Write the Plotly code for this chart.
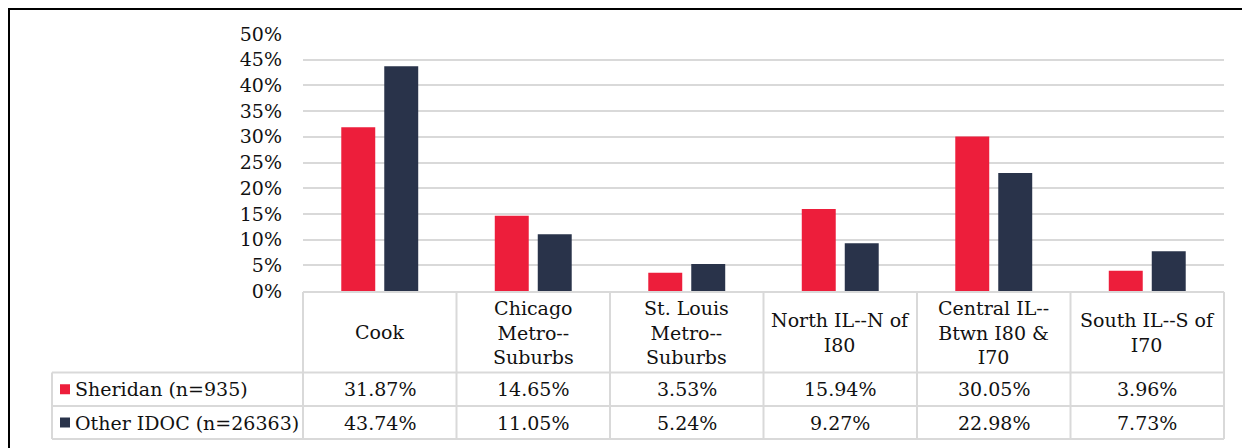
import plotly.graph_objects as go

categories = ["Cook", "Chicago Metro--Suburbs", "St. Louis Metro--Suburbs",
              "North IL--N of I80", "Central IL--Btwn I80 & I70", "South IL--S of I70"]
header_labels = ["Cook", "Chicago<br>Metro--<br>Suburbs", "St. Louis<br>Metro--<br>Suburbs",
                 "North IL--N of<br>I80", "Central IL--<br>Btwn I80 &<br>I70", "South IL--S of<br>I70"]
series_names = ["Sheridan (n=935)", "Other IDOC (n=26363)"]
sheridan = [31.87, 14.65, 3.53, 15.94, 30.05, 3.96]
other_idoc = [43.74, 11.05, 5.24, 9.27, 22.98, 7.73]
tick_vals = [0, 5, 10, 15, 20, 25, 30, 35, 40, 45, 50]
tick_text = [f"{v}%" for v in tick_vals]

RED = "#ED1E3B"
NAVY = "#29334A"
GRID = "#d9d9d9"
FONT = "DejaVu Serif"
FS = 19

# page offset of the figure div (default body margin)
OFF = 8
WIDTH, HEIGHT = 1250 - OFF, 448 - OFF
# plot-area geometry in page pixels
L, R, T, B = 303, 1224, 34, 291
PW, PH = R - L, B - T


def px(x):
    return (x - L) / PW


def py(y):
    return (B - y) / PH


fig = go.Figure()
for name, vals, col in [(series_names[0], sheridan, RED), (series_names[1], other_idoc, NAVY)]:
    fig.add_trace(go.Bar(x=categories, y=vals, name=name, marker_color=col,
                         marker_line_width=0))

shapes = []
n = len(categories)
col_w = PW / n
line = dict(color=GRID, width=2)
row_top, row_hdr, row_mid, row_bot = 292, 372.5, 406, 439
leg_left = 52
shapes.append(dict(type="line", xref="paper", yref="paper", x0=px(L), x1=px(R),
                   y0=py(row_top), y1=py(row_top), line=line))
for yy in [row_hdr, row_mid, row_bot]:
    shapes.append(dict(type="line", xref="paper", yref="paper", x0=px(leg_left), x1=px(R),
                       y0=py(yy), y1=py(yy), line=line))
for k in range(n + 1):
    xx = L + k * col_w
    shapes.append(dict(type="line", xref="paper", yref="paper", x0=px(xx), x1=px(xx),
                       y0=py(row_top), y1=py(row_bot), line=line))
shapes.append(dict(type="line", xref="paper", yref="paper", x0=px(leg_left), x1=px(leg_left),
                   y0=py(row_hdr), y1=py(row_bot), line=line))
for yc, col in [((row_hdr + row_mid) / 2, RED), ((row_mid + row_bot) / 2, NAVY)]:
    shapes.append(dict(type="rect", xref="paper", yref="paper", x0=px(60), x1=px(70),
                       y0=py(yc + 5), y1=py(yc - 5), fillcolor=col, line=dict(width=0)))
# outer border (as close to the page edge as the figure allows)
shapes.append(dict(type="rect", xref="paper", yref="paper", x0=px(OFF + 1), x1=px(1262),
                   y0=py(470), y1=py(OFF + 1), line=dict(color="black", width=2),
                   fillcolor="rgba(0,0,0,0)"))

annotations = []
hdr_c = (row_top + row_hdr) / 2
for cat, lab in zip(categories, header_labels):
    annotations.append(dict(x=cat, xref="x", y=py(hdr_c), yref="paper", text=lab,
                            showarrow=False, xanchor="center", yanchor="middle",
                            font=dict(family=FONT, size=FS, color="#111")))
for vals, yc in [(sheridan, (row_hdr + row_mid) / 2), (other_idoc, (row_mid + row_bot) / 2)]:
    for cat, v in zip(categories, vals):
        annotations.append(dict(x=cat, xref="x", y=py(yc), yref="paper", text=f"{v:.2f}%",
                                showarrow=False, xanchor="center", yanchor="middle",
                                font=dict(family=FONT, size=FS, color="#111")))
for name, yc in [(series_names[0], (row_hdr + row_mid) / 2), (series_names[1], (row_mid + row_bot) / 2)]:
    annotations.append(dict(x=px(73), xref="paper", y=py(yc), yref="paper", text=name,
                            showarrow=False, xanchor="left", yanchor="middle",
                            font=dict(family=FONT, size=FS, color="#111")))

fig.update_layout(
    width=WIDTH, height=HEIGHT,
    margin=dict(l=L - OFF, r=WIDTH + OFF - R, t=T - OFF, b=HEIGHT + OFF - B, autoexpand=False),
    paper_bgcolor="white", plot_bgcolor="white",
    barmode="group", bargap=0.44, bargroupgap=0.21,
    showlegend=False,
    font=dict(family=FONT, size=FS, color="#111"),
    xaxis=dict(showticklabels=False, showgrid=False, zeroline=False, showline=False,
               ticks=""),
    yaxis=dict(range=[0, 50], tickvals=tick_vals, ticktext=tick_text,
               showgrid=True, gridcolor=GRID, gridwidth=2, zeroline=False,
               showline=False, ticks="", ticklabelstandoff=20,
               tickfont=dict(family=FONT, size=FS, color="#111")),
    shapes=shapes, annotations=annotations,
)

fig.write_html("out.html")
